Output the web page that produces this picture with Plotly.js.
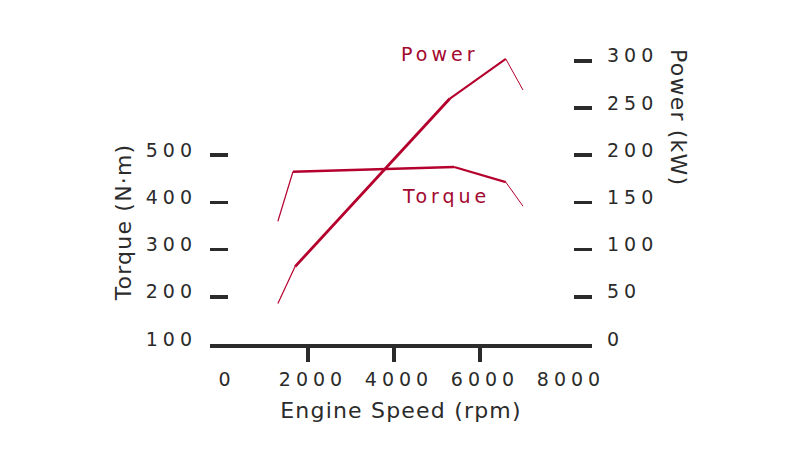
<!DOCTYPE html>
<html><head><meta charset="utf-8">
<script src="https://cdn.plot.ly/plotly-3.0.1.min.js"></script>
<style>
html,body{margin:0;padding:0;background:#fff;}
#chart{width:800px;height:450px;}
.xtick text,.x2tick text,.ytick text,.y2tick text{letter-spacing:5px;}
.annotation[data-index="0"] text,.annotation[data-index="1"] text{letter-spacing:4px;}
.annotation[data-index="2"] text,.annotation[data-index="3"] text{letter-spacing:1.2px;}
.g-x2title text,.g-xtitle text{letter-spacing:1.2px;}
</style></head><body><div id="chart"></div>
<script>
// Data
const torqueRpm = [1300, 1650, 5400, 6600, 7000];
const torqueNm  = [360, 465, 475, 443, 392];
const powerRpm  = [1300, 1700, 5300, 6600, 7000];
const powerKw   = [43, 82, 260, 302, 269];
const rpmTicks      = [0, 2000, 4000, 6000, 8000];
const rpmTickMarks  = [2000, 4000, 6000];
const torqueTicks   = [100, 200, 300, 400, 500];
const powerTicks    = [0, 50, 100, 150, 200, 250, 300];

const lineRed = '#b5002d';
const labelRed = '#a3082f';
const ink = '#2b2b2b';

// per-segment widths (thin at the ends of each curve)
const torqueWidths = [1.2, 2.6, 2.2, 1.0];
const powerWidths  = [1.2, 2.8, 2.0, 1.0];

function segments(xs, ys, widths, xa, ya) {
  const out = [];
  for (let i = 0; i < xs.length - 1; i++) {
    out.push({
      type: 'scatter', mode: 'lines',
      x: xs.slice(i, i + 2), y: ys.slice(i, i + 2),
      xaxis: xa, yaxis: ya,
      line: {color: lineRed, width: widths[i]},
      hoverinfo: 'skip', showlegend: false
    });
  }
  return out;
}

const traces = [].concat(
  segments(torqueRpm, torqueNm, torqueWidths, 'x', 'y'),
  segments(powerRpm, powerKw, powerWidths, 'x2', 'y2')
);

const xRange = [-279, 8605];

const layout = {
  width: 800, height: 450,
  margin: {l: 210, r: 208, t: 44, b: 106, pad: 0},
  paper_bgcolor: '#ffffff', plot_bgcolor: '#ffffff',
  showlegend: false, hovermode: false,
  font: {family: 'DejaVu Sans, sans-serif', color: ink, size: 19},
  xaxis: {
    range: xRange, tickmode: 'array', tickvals: rpmTickMarks,
    ticks: 'outside', ticklen: 14, tickwidth: 3.5, tickcolor: ink,
    showticklabels: false, showline: true, linewidth: 4, linecolor: ink,
    showgrid: false, zeroline: false
  },
  xaxis2: {
    overlaying: 'x', anchor: 'y', side: 'bottom', range: xRange,
    tickmode: 'array', tickvals: rpmTicks, ticks: '',
    showline: false, showgrid: false, zeroline: false,
    ticklabelstandoff: 22, ticklabelshift: 5,
    tickfont: {size: 19, color: ink},
    title: {text: 'Engine Speed (rpm)', font: {size: 22, color: ink}, standoff: 13}
  },
  yaxis: {
    range: [100, 735.6], tickmode: 'array', tickvals: torqueTicks,
    ticks: 'inside', ticklen: 18, tickwidth: 3.5, tickcolor: ink,
    showline: false, showgrid: false, zeroline: false,
    ticklabelshift: -5, ticklabelstandoff: 12,
    tickfont: {size: 19, color: ink}
  },
  yaxis2: {
    overlaying: 'y', anchor: 'x', side: 'right', range: [0, 317.8],
    tickmode: 'array', tickvals: powerTicks,
    ticks: 'inside', ticklen: 18, tickwidth: 3.5, tickcolor: ink,
    showline: false, showgrid: false, zeroline: false,
    ticklabelshift: -5, ticklabelstandoff: 14,
    tickfont: {size: 19, color: ink}
  },
  annotations: [
    {xref: 'paper', yref: 'paper', x: 0.603, y: 0.968, text: 'Power', showarrow: false,
     xanchor: 'center', yanchor: 'middle', font: {size: 19, color: labelRed}},
    {xref: 'paper', yref: 'paper', x: 0.619, y: 0.493, text: 'Torque', showarrow: false,
     xanchor: 'center', yanchor: 'middle', font: {size: 19, color: labelRed}},
    {xref: 'paper', yref: 'paper', x: -0.2277, y: 0.403, text: 'Torque (N·m)', showarrow: false,
     textangle: -90, xanchor: 'center', yanchor: 'middle', font: {size: 22, color: ink}},
    {xref: 'paper', yref: 'paper', x: 1.2277, y: 0.753, text: 'Power (kW)', showarrow: false,
     textangle: 90, xanchor: 'center', yanchor: 'middle', font: {size: 22, color: ink}}
  ]
};

Plotly.newPlot('chart', traces, layout, {staticPlot: true, displayModeBar: false});
</script></body></html>
